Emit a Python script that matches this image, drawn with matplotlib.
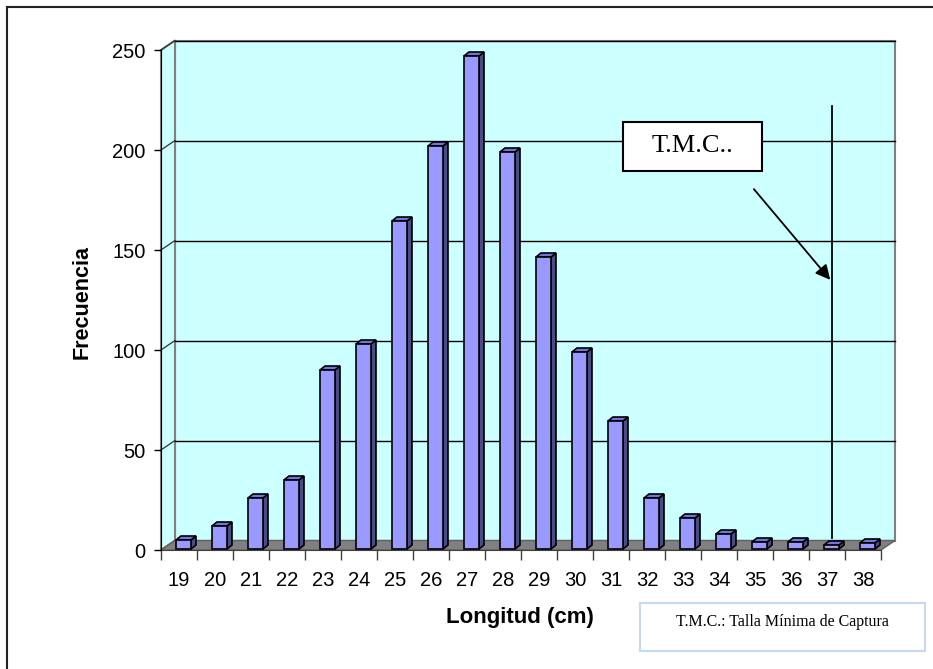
"""
Frecuencia de tallas - histograma estilo Excel 3D
"""

import matplotlib
matplotlib.use('Agg')
from matplotlib import pyplot as plt
from matplotlib.patches import Polygon, Rectangle
from matplotlib.lines import Line2D

tallas = ['19', '20', '21', '22', '23', '24', '25', '26', '27', '28',
          '29', '30', '31', '32', '33', '34', '35', '36', '37', '38']
frecuencia = [4.5, 11.5, 25.5, 34.5, 89.5, 102.5, 164, 201.5, 246.5, 198.5,
              146, 98.5, 64, 25.5, 15.5, 7.5, 3.5, 3.5, 2, 3]
yticks = [0, 50, 100, 150, 200, 250]
tmc_talla = 37

W, H = 933, 669
fig = plt.figure(figsize=(W / 100, H / 100), dpi=100)
plt.rcParams['font.family'] = ['Liberation Sans', 'DejaVu Sans']

# plano frontal del grafico en pixeles
x0, x1, y0, y1 = 161, 881, 550, 50
ax = fig.add_axes([x0 / W, (H - y0) / H, (x1 - x0) / W, (y0 - y1) / H])
n = len(tallas)
ax.set_xlim(0, n)
ax.set_ylim(0, 250)
ax.set_facecolor('none')

px_x = n / (x1 - x0)     # unidades por pixel
px_y = 250 / (y0 - y1)
dx, dy = 14 * px_x, 9.5 * px_y      # profundidad de las paredes
bdx, bdy = 5 * px_x, 4 * px_y       # profundidad de las barras

cian = '#CCFFFF'
gris = '#808080'

# paredes y suelo
ax.add_patch(Polygon([(dx, dy), (n + dx, dy), (n + dx, 250 + dy), (dx, 250 + dy)],
                     closed=True, fc=cian, ec=gris, lw=1.5, clip_on=False, zorder=0))
ax.add_patch(Polygon([(0, 0), (dx, dy), (dx, 250 + dy), (0, 250)],
                     closed=True, fc=cian, ec=gris, lw=1.5, clip_on=False, zorder=0))
for v in yticks[1:]:
    ax.plot([dx, n + dx], [v + dy, v + dy], color='black', lw=1, zorder=1, clip_on=False)
    ax.plot([0, dx], [v, v + dy], color='#333333', lw=0.9, zorder=1, clip_on=False)
ax.add_patch(Polygon([(0, 0), (n, 0), (n + dx, dy), (dx, dy)],
                     closed=True, fc=gris, ec='#606060', lw=1, clip_on=False, zorder=1))

# linea de la talla minima
xl = tallas.index(str(tmc_talla)) + 0.64
ax.plot([xl, xl], [6, 222], color='black', lw=1.3, zorder=2, clip_on=False)

# barras
off = 15 * px_x
bw = 15 * px_x
base = 0.5
xs = [i + off + bw / 2 for i in range(n)]
ax.bar(xs, frecuencia, width=bw, bottom=base, color='#9999FF',
       edgecolor='black', linewidth=1.2, zorder=4)
for xc, v in zip(xs, frecuencia):
    l, r, t = xc - bw / 2, xc + bw / 2, base + v
    ax.add_patch(Polygon([(r, base), (r + bdx, base + bdy), (r + bdx, t + bdy), (r, t)],
                         closed=True, fc='#4B4B85', ec='black', lw=1.2, zorder=3))
    ax.add_patch(Polygon([(l, t), (r, t), (r + bdx, t + bdy), (l + bdx, t + bdy)],
                         closed=True, fc='#7373D9', ec='black', lw=1.2, zorder=3))

# ejes
for s in ['top', 'right']:
    ax.spines[s].set_visible(False)
ax.spines['left'].set_color('black')
ax.spines['bottom'].set_color('#404040')
ax.spines['left'].set_zorder(5)
ax.set_yticks(yticks)
ax.set_yticklabels([str(v) for v in yticks], fontsize=14.5)
ax.set_xticks(range(n + 1))
ax.set_xticklabels([])
ax.set_xticks([i + 0.5 for i in range(n)], minor=True)
ax.set_xticklabels(tallas, minor=True, fontsize=14.5)
ax.tick_params(axis='y', direction='out', length=5, width=1, pad=6)
ax.tick_params(axis='x', which='major', direction='out', length=7, width=1, color='#404040')
ax.tick_params(axis='x', which='minor', length=0, pad=15)

fig.text(82 / W, 1 - 302 / H, 'Frecuencia', rotation=90, fontsize=15.5,
         fontweight='bold', ha='center', va='center')
fig.text(520 / W, 1 - 618 / H, 'Longitud (cm)', fontsize=16,
         fontweight='bold', ha='center', va='center')

# recuadro T.M.C..
bx0, bx1 = 12.83, 16.69
by0, by1 = 189.5, 214
ax.add_patch(Rectangle((bx0, by0), bx1 - bx0, by1 - by0, fc='white', ec='black',
                       lw=1.5, zorder=6, clip_on=False))
ax.text((bx0 + bx1) / 2, (by0 + by1) / 2, 'T.M.C..', fontsize=19,
        family=['Liberation Serif'], ha='center', va='center', zorder=7)
ax.annotate('', xy=(xl, 134), xytext=(16.42, 181.5),
            arrowprops=dict(arrowstyle='-|>', color='black', lw=1.3,
                            mutation_scale=22), zorder=7)

# leyenda inferior
fig.patches.append(Rectangle((640 / W, 1 - 651 / H), 285 / W, 48 / H,
                             transform=fig.transFigure, fc='white', ec='#C6D9F1', lw=1.5))
fig.text(782 / W, 1 - 622 / H, 'T.M.C.: Talla Mínima de Captura', fontsize=11.5,
         family=['Liberation Serif'], ha='center', va='center')

# marco exterior
fig.lines.append(Line2D([7 / W, 7 / W], [0, 1 - 7 / H], transform=fig.transFigure,
                        color='#222222', lw=1.5))
fig.lines.append(Line2D([7 / W, 1], [1 - 7 / H, 1 - 7 / H], transform=fig.transFigure,
                        color='#222222', lw=1.5))

fig.savefig('out.png', dpi=100)
